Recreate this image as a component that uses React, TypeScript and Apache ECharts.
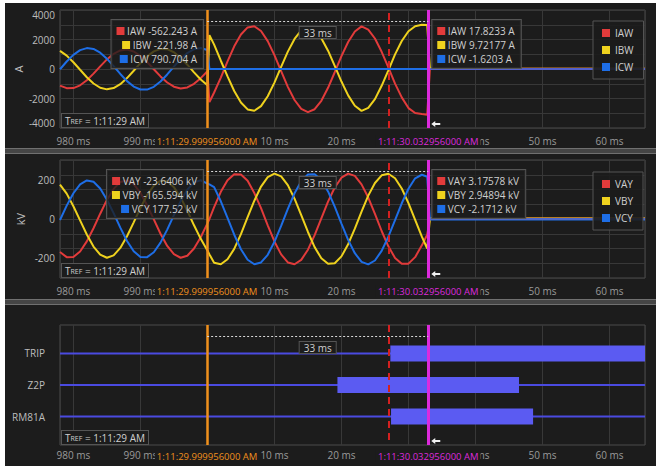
import React, { useEffect, useRef } from 'react';
import * as echarts from 'echarts';

// ---------------- data ----------------
const timeMs = [
  -22, -21, -20, -19, -18, -17, -16, -15, -14, -13, -12, -11, -10, -9, -8, -7, -6, -5, -4, -3, -2, -1, 0,
  0.3,
  1, 2, 3, 4, 5, 6, 7, 8, 9, 10, 11, 12, 13, 14, 15, 16, 17, 18, 19, 20, 21, 22, 23, 24, 25, 26, 27, 28, 29, 30, 31, 32,
  32.8, 33.2, 65.3,
];
const iaw = [
  -1123, -1300, -1294, -1106, -763, -313, 181, 650, 1027, 1261, 1316, 1188, 892, 471, -16, -501, -915, -1201, -1318, -1250, -1007, -622, -149,
  -2250,
  -1595, -582, 512, 1535, 2341, 2819, 2901, 2576, 1888, 936, -148, -1211, -2103, -2701, -2920, -2728, -2153, -1276, -219, 868, 1833, 2542, 2892, 2674, 2067, 1168, 108, -995, -1925, -2650, -2980, -3050,
  -3100, 18, 18,
];
const ibw = [
  1225, 905, 458, -53, -557, -982, -1270, -1380, -1295, -1029, -618, -120, 394, 853, 1192, 1364, 1345, 1136, 767, 292, -225, -711, -1096,
  2300,
  1650, 560, -500, -1490, -2270, -2740, -2830, -2520, -1850, -920, 140, 1180, 2040, 2620, 2830, 2650, 2090, 1240, 210, -850, -1790, -2490, -2840, -2640, -2040, -1140, -90, 990, 1900, 2560, 2900, 3000,
  2980, 10, 10,
];
const icw = [
  -17, 507, 959, 1278, 1416, 1356, 1105, 699, 195, -336, -821, -1190, -1392, -1398, -1208, -849, -370, 161, 669, 1083, 1345, 1418, 1292,
  0,
  0, 0, 0, 0, 0, 0, 0, 0, 0, 0, 0, 0, 0, 0, 0, 0, 0, 0, 0, 0, 0, 0, 0, 0, 0, 0, 0, 0, 0, 0, 0, 0,
  0, -2, -2,
];
const vay = [
  -168, -194, -193, -165, -114, -47, 27, 97, 153, 188, 196, 177, 133, 70, -2, -75, -137, -179, -197, -187, -150, -93, -22,
  0,
  60, 138, 197, 227, 226, 194, 132, 55, -32, -114, -180, -221, -230, -208, -156, -82, 3, 88, 160, 210, 231, 219, 176, 109, 26, -61, -139, -198, -228, -227, -194, -134,
  -80, 3, 3,
];
const vby = [
  175, 129, 65, -7, -79, -140, -181, -197, -185, -147, -88, -17, 56, 122, 170, 195, 192, 162, 110, 42, -32, -101, -160,
  -180,
  -222, -230, -205, -152, -77, 9, 93, 165, 213, 231, 217, 172, 103, 20, -66, -143, -200, -228, -225, -190, -128, -49, 38, 119, 183, 222, 230, 207, 155, 81, -5, -90,
  -150, 3, 3,
];
const vcy = [
  -5, 68, 131, 176, 196, 189, 155, 98, 30, -44, -112, -164, -193, -194, -169, -120, -54, 20, 91, 149, 186, 197, 180,
  176,
  162, 90, 6, -80, -154, -207, -230, -221, -182, -116, -35, 52, 131, 192, 226, 228, 198, 140, 63, -23, -106, -174, -218, -231, -211, -162, -90, -6, 80, 154, 207, 225,
  215, -2, -2,
];
const tailTimes = [33.2, 65.3];
const tailValues = [0, 0];

const currentNames = ['IAW', 'IBW', 'ICW'];
const voltageNames = ['VAY', 'VBY', 'VCY'];
const currentReadouts = [
  ['-562.243 A', '-221.98 A', '790.704 A'],
  ['17.8233 A', '9.72177 A', '-1.6203 A'],
];
const voltageReadouts = [
  ['-23.6406 kV', '-165.594 kV', '177.52 kV'],
  ['3.17578 kV', '2.94894 kV', '-2.1712 kV'],
];
const currentTicks = [-4000, -2000, 0, 2000, 4000];
const voltageTicks = [-200, 0, 200];

const signalNames = ['TRIP', 'Z2P', 'RM81A'];
const signalOn = [27.3, 19.4, 27.4];
const signalOff = [65.3, 46.5, 48.6];

const cursorTimes = [-0.044, 32.956];
const cursorLabels = ['1:11:29.999956000 AM', '1:11:30.032956000 AM'];
const tripTime = 27.1;
const deltaLabel = '33 ms';
const trefTime = '1:11:29 AM';

// ---------------- layout / style ----------------
const X_MIN = -22;
const X_MAX = 65.3;
const FONT = '"Open Sans", "Noto Sans", sans-serif';
const GRID_LEFT = 60;
const GRID_RIGHT = 13;
const PANELS = [
  { top: 10, height: 118 },
  { top: 160, height: 118 },
  { top: 325, height: 120 },
];
const PHASE_COLORS = ['#e23b3b', '#efd21e', '#1e6ee6'];
const ORANGE = '#f0901c';
const MAGENTA = '#dc2adc';
const BAR_COLOR = '#5b5bf2';
const BASE_COLOR = '#4a4ae0';
const TEXT = '#cfcfcf';
// tick labels that sit completely under a cursor's time label are not drawn
const CURSOR_LABEL_HALF_SPAN_MS = 6;

function xAxisCfg(i: number) {
  return {
    type: 'value',
    gridIndex: i,
    min: X_MIN,
    max: X_MAX,
    minInterval: 10,
    maxInterval: 10,
    axisLine: { show: false },
    axisTick: { show: false },
    axisLabel: {
      color: '#9a9a9a',
      fontSize: 10,
      fontFamily: FONT,
      margin: i === 2 ? 5 : 8,
      formatter: (v: number) => {
        if (Math.abs(v - Math.round(v / 10) * 10) > 1e-6) return '';
        if (cursorTimes.some((c) => Math.abs(v - c) < CURSOR_LABEL_HALF_SPAN_MS)) return '';
        return v < 0 ? `${Math.round(1000 + v)} ms` : `${Math.round(v)} ms`;
      },
    },
    splitLine: { show: true, lineStyle: { color: '#383838', width: 1 } },
  };
}

function markerSeries(i: number) {
  return {
    type: 'line',
    name: 'cursors' + i,
    xAxisIndex: i,
    yAxisIndex: i,
    data: [],
    z: 6,
    silent: true,
    markLine: {
      silent: true,
      symbol: 'none',
      animation: false,
      label: { show: false },
      data: [
        { xAxis: tripTime, lineStyle: { color: '#d42020', width: 2, type: [7, 5] } },
        { xAxis: cursorTimes[0], lineStyle: { color: ORANGE, width: 2.5, type: 'solid' } },
        { xAxis: cursorTimes[1], lineStyle: { color: MAGENTA, width: 3, type: 'solid' } },
      ],
    },
  };
}

function waveSeries(name: string, values: number[], color: string, axis: number) {
  return {
    type: 'line',
    name,
    xAxisIndex: axis,
    yAxisIndex: axis,
    data: timeMs.map((t, k) => [t, values[k]]),
    showSymbol: false,
    symbol: 'none',
    silent: true,
    lineStyle: { width: 2, color },
    itemStyle: { color },
  };
}

function legendCfg(names: string[], top: number) {
  return {
    data: names,
    orient: 'vertical',
    left: 593,
    top,
    padding: [7, 10, 7, 9],
    itemWidth: 8,
    itemHeight: 8,
    itemGap: 7,
    icon: 'rect',
    selectedMode: false,
    backgroundColor: 'rgba(28,28,28,0.9)',
    borderColor: '#555',
    borderWidth: 1,
    textStyle: { color: TEXT, fontSize: 10, fontFamily: FONT },
  };
}

export default function App() {
  const ref = useRef<HTMLDivElement>(null);

  useEffect(() => {
    const chart = echarts.init(ref.current!, null, { renderer: 'svg' });
    const option: any = {
      animation: false,
      backgroundColor: 'transparent',
      textStyle: { fontFamily: FONT },
      grid: PANELS.map((p) => ({
        left: GRID_LEFT,
        right: GRID_RIGHT,
        top: p.top,
        height: p.height,
        show: true,
        borderColor: '#4a4a4a',
        borderWidth: 1,
        backgroundColor: 'transparent',
      })),
      legend: [legendCfg(currentNames, 21), legendCfg(voltageNames, 172)],
      xAxis: [xAxisCfg(0), xAxisCfg(1), xAxisCfg(2)],
      yAxis: [
        {
          type: 'value',
          gridIndex: 0,
          min: -4000,
          max: 4000,
          interval: 1000,
          name: 'A',
          nameLocation: 'middle',
          nameGap: 36,
          nameMoveOverlap: false,
          nameTextStyle: { color: '#bdbdbd', fontSize: 11, fontFamily: FONT },
          axisLine: { show: false },
          axisTick: { show: false },
          axisLabel: {
            color: '#bdbdbd',
            fontSize: 10,
            fontFamily: FONT,
            margin: 5,
            verticalAlignMinLabel: 'bottom',
            verticalAlignMaxLabel: 'top',
            formatter: (v: number) => (currentTicks.includes(v) ? String(v) : ''),
          },
          splitLine: { show: true, lineStyle: { color: '#383838' } },
        },
        {
          type: 'value',
          gridIndex: 1,
          min: -300,
          max: 300,
          interval: 75,
          name: 'kV',
          nameLocation: 'middle',
          nameGap: 34,
          nameMoveOverlap: false,
          nameTextStyle: { color: '#bdbdbd', fontSize: 11, fontFamily: FONT },
          axisLine: { show: false },
          axisTick: { show: false },
          axisLabel: {
            color: '#bdbdbd',
            fontSize: 10,
            fontFamily: FONT,
            margin: 5,
            customValues: voltageTicks,
            formatter: (v: number) => String(v),
          },
          splitLine: { show: true, lineStyle: { color: '#383838' } },
        },
        {
          type: 'value',
          gridIndex: 2,
          min: -0.9,
          max: 2.9,
          inverse: true,
          axisLine: { show: false },
          axisTick: { show: false },
          axisLabel: {
            color: '#bdbdbd',
            fontSize: 10,
            fontFamily: FONT,
            margin: 15,
            customValues: signalNames.map((_, k) => k),
            formatter: (v: number) => signalNames[Math.round(v)] ?? '',
          },
          splitLine: { show: false },
        },
      ],
      series: [
        waveSeries('IAW', iaw, PHASE_COLORS[0], 0),
        waveSeries('IBW', ibw, PHASE_COLORS[1], 0),
        waveSeries('ICW', icw, PHASE_COLORS[2], 0),
        {
          type: 'line', name: 'tail0', xAxisIndex: 0, yAxisIndex: 0, silent: true, symbol: 'none',
          data: tailTimes.map((t, k) => [t, tailValues[k]]), lineStyle: { width: 2, color: '#5460cc' },
        },
        markerSeries(0),
        waveSeries('VAY', vay, PHASE_COLORS[0], 1),
        waveSeries('VBY', vby, PHASE_COLORS[1], 1),
        waveSeries('VCY', vcy, PHASE_COLORS[2], 1),
        {
          type: 'line', name: 'tail1', xAxisIndex: 1, yAxisIndex: 1, silent: true, symbol: 'none',
          data: tailTimes.map((t, k) => [t, tailValues[k]]), lineStyle: { width: 2, color: '#4e68c8' },
        },
        markerSeries(1),
        {
          type: 'custom',
          name: 'baselines',
          xAxisIndex: 2,
          yAxisIndex: 2,
          silent: true,
          data: signalNames.map((_, k) => [X_MIN, X_MAX, k]),
          encode: { x: [0, 1], y: 2 },
          renderItem: (params: any, api: any) => {
            const a = api.coord([api.value(0), api.value(2)]);
            const b = api.coord([api.value(1), api.value(2)]);
            return {
              type: 'line',
              shape: { x1: a[0], y1: a[1], x2: b[0], y2: b[1] },
              style: { stroke: BASE_COLOR, lineWidth: 2 },
            };
          },
        },
        {
          type: 'custom',
          name: 'states',
          xAxisIndex: 2,
          yAxisIndex: 2,
          silent: true,
          data: signalNames.map((_, k) => [signalOn[k], signalOff[k], k]),
          encode: { x: [0, 1], y: 2 },
          renderItem: (params: any, api: any) => {
            const a = api.coord([api.value(0), api.value(2)]);
            const b = api.coord([api.value(1), api.value(2)]);
            const h = 16;
            return {
              type: 'rect',
              shape: { x: a[0], y: a[1] - h / 2, width: b[0] - a[0], height: h },
              style: { fill: BAR_COLOR },
            };
          },
        },
        markerSeries(2),
      ],
    };
    chart.setOption(option);

    const g: any[] = [];
    PANELS.forEach((p, i) => {
      const x1 = chart.convertToPixel({ xAxisIndex: i } as any, cursorTimes[0]) as unknown as number;
      const x2 = chart.convertToPixel({ xAxisIndex: i } as any, cursorTimes[1]) as unknown as number;
      const bottom = p.top + p.height;
      g.push({
        type: 'line',
        z: 20,
        silent: true,
        shape: { x1, y1: p.top + 11.5, x2, y2: p.top + 11.5 },
        style: { stroke: '#d8d8d8', lineWidth: 1, lineDash: [2, 2] },
      });
      g.push({
        type: 'text',
        z: 21,
        silent: true,
        x: (x1 + x2) / 2,
        y: p.top + 17,
        style: {
          text: deltaLabel, fill: TEXT, fontSize: 10, fontFamily: FONT, align: 'center', verticalAlign: 'top',
          backgroundColor: '#1c1c1c', borderColor: '#555', borderWidth: 1, padding: [1, 4, 0, 4],
        },
      });
      g.push({
        type: 'text',
        z: 21,
        silent: true,
        x: GRID_LEFT + 2,
        y: bottom - 1,
        style: {
          text: `{a|T}{b|REF}{a| = ${trefTime}}`,
          rich: {
            a: { fontSize: 10, fill: TEXT, fontFamily: FONT },
            b: { fontSize: 7, fill: TEXT, fontFamily: FONT },
          },
          align: 'left', verticalAlign: 'bottom',
          backgroundColor: '#1c1c1c', borderColor: '#555', borderWidth: 1, padding: [2, 3, 1, 3],
        },
      });
      [x1, x2].forEach((x, c) => {
        g.push({
          type: 'text',
          z: 21,
          silent: true,
          x,
          y: bottom + (i === 2 ? 11 : 13),
          style: {
            text: cursorLabels[c], fill: c === 0 ? ORANGE : MAGENTA, fontSize: 9.5, fontFamily: FONT,
            align: 'center', verticalAlign: 'middle', backgroundColor: '#1c1c1c', padding: [1, 2],
          },
        });
      });
      g.push({
        type: 'polygon',
        z: 21,
        silent: true,
        x: x2 + 3,
        y: bottom - 7,
        shape: { points: [[0, 3], [4, 0], [4, 2], [9, 2], [9, 4], [4, 4], [4, 6]] },
        style: { fill: '#f2f2f2' },
      });
      if (i < 2) {
        const names = i === 0 ? currentNames : voltageNames;
        const reads = i === 0 ? currentReadouts : voltageReadouts;
        [x1, x2].forEach((x, c) => {
          const text = names.map((n, k) => `{s${k}|}{t| ${n} ${reads[c][k]}}`).join('\n');
          g.push({
            type: 'text',
            z: 21,
            silent: true,
            x: c === 0 ? x - 4 : x + 4,
            y: p.top + 10,
            style: {
              text,
              rich: {
                s0: { width: 8, height: 8, backgroundColor: PHASE_COLORS[0], verticalAlign: 'middle' },
                s1: { width: 8, height: 8, backgroundColor: PHASE_COLORS[1], verticalAlign: 'middle' },
                s2: { width: 8, height: 8, backgroundColor: PHASE_COLORS[2], verticalAlign: 'middle' },
                t: { fill: TEXT, fontSize: 10, fontFamily: FONT, lineHeight: 14, verticalAlign: 'middle' },
              },
              lineHeight: 14,
              align: c === 0 ? 'right' : 'left',
              verticalAlign: 'top',
              backgroundColor: 'rgba(28,28,28,0.78)',
              borderColor: '#555',
              borderWidth: 1,
              padding: [4, 6, 2, 5],
            },
          });
        });
      }
    });
    chart.setOption({ graphic: { elements: g } });

    return () => chart.dispose();
  }, []);

  const sep = (top: number) => ({
    position: 'absolute' as const,
    left: 5,
    top,
    width: 651,
    height: 6,
    boxSizing: 'border-box' as const,
    background: '#454545',
    borderTop: '1px solid #707070',
    borderBottom: '1px solid #707070',
  });

  return (
    <div style={{ position: 'fixed', left: 0, top: 0, width: 658, height: 466, background: '#ffffff', overflow: 'hidden' }}>
      <div style={{ position: 'absolute', left: 5, top: 3, width: 651, height: 463, background: '#1c1c1c' }} />
      <div style={sep(148)} />
      <div style={sep(299)} />
      <div ref={ref} style={{ position: 'absolute', left: 0, top: 0, width: 658, height: 466 }} />
    </div>
  );
}
